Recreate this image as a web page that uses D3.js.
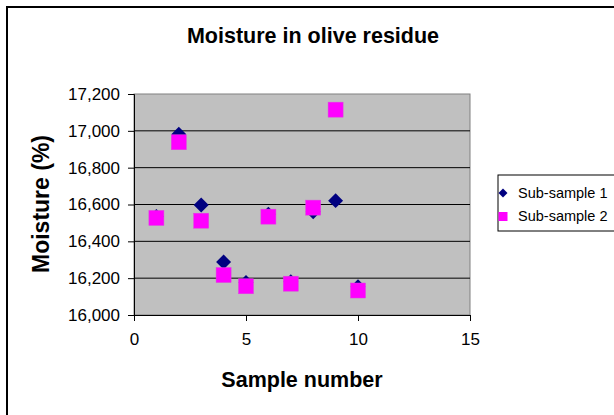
<!DOCTYPE html>
<html><head><meta charset="utf-8">
<script src="https://cdn.jsdelivr.net/npm/d3@7"></script>
<style>
body{margin:0;background:#fff;}
svg text{font-family:"Liberation Sans",Arial,sans-serif;}
</style></head>
<body>
<script>
const sampleNumbers = [1,2,3,4,5,6,7,8,9,10];
const subSample1 = [16535,16982,16597,16288,16177,16547,16180,16560,16621,16153];
const subSample2 = [16527,16938,16512,16217,16156,16534,16170,16583,17115,16133];
const xTicks = [0,5,10,15];
const yTicks = [16000,16200,16400,16600,16800,17000,17200];
const seriesNames = ["Sub-sample 1","Sub-sample 2"];

const W=614,H=415;
const svg=d3.select("body").append("svg").attr("width",W).attr("height",H);
svg.append("rect").attr("width",W).attr("height",H).attr("fill","#fff");
svg.append("rect").attr("x",7).attr("y",7).attr("width",W).attr("height",H).attr("fill","none").attr("stroke","#000").attr("stroke-width",2);

const L=134,R=470,T=94,B=315;
const x=d3.scaleLinear().domain([0,15]).range([L,R]);
const y=d3.scaleLinear().domain([16000,17200]).range([B,T]);

svg.append("rect").attr("x",L).attr("y",T).attr("width",R-L).attr("height",B-T).attr("fill","#C0C0C0").attr("stroke","#808080").attr("stroke-width",1);

svg.append("g").selectAll("line").data(yTicks.filter(d=>d>16000&&d<17200)).join("line")
  .attr("x1",L).attr("x2",R).attr("y1",d=>y(d)).attr("y2",d=>y(d)).attr("stroke","#000").attr("stroke-width",1);

const yAxis=d3.axisLeft(y).tickValues(yTicks).tickSize(6).tickPadding(8).tickFormat(d3.format(","));
const gy=svg.append("g").attr("transform",`translate(${L},0)`).call(yAxis);
const xAxis=d3.axisBottom(x).tickValues(xTicks).tickSize(6).tickPadding(12).tickFormat(d3.format("d"));
const gx=svg.append("g").attr("transform",`translate(0,${B})`).call(xAxis);
[gx,gy].forEach(g=>{
  g.select(".domain").attr("stroke","#000").attr("stroke-width",1);
  g.selectAll(".tick line").attr("stroke","#000");
  g.selectAll("text").attr("font-size",17).attr("fill","#000").attr("font-family","Liberation Sans, Arial, sans-serif");
});

const diamond=d3.symbol().type(d3.symbolSquare).size(112);
svg.append("g").selectAll("path").data(sampleNumbers).join("path")
  .attr("d",diamond).attr("transform",(d,i)=>`translate(${x(d)},${y(subSample1[i])}) rotate(45)`)
  .attr("fill","#000080");
svg.append("g").selectAll("rect").data(sampleNumbers).join("rect")
  .attr("x",(d)=>x(d)-7.5).attr("y",(d,i)=>y(subSample2[i])-7.5).attr("width",15).attr("height",15)
  .attr("fill","#FF00FF").attr("stroke","#E040E0").attr("stroke-width",0.5);

svg.append("text").attr("x",313).attr("y",43).attr("text-anchor","middle").attr("font-size",21.5).attr("font-weight","bold").text("Moisture in olive residue");
svg.append("text").attr("x",302).attr("y",387).attr("text-anchor","middle").attr("font-size",21.5).attr("font-weight","bold").text("Sample number");
svg.append("text").attr("transform","translate(49,204) rotate(-90)").attr("text-anchor","middle").attr("font-size",23).attr("font-weight","bold").text("Moisture (%)");

const lg=svg.append("g");
lg.append("rect").attr("x",498).attr("y",175).attr("width",130).attr("height",56).attr("fill","#fff").attr("stroke","#000").attr("stroke-width",1);
lg.append("path").attr("d",d3.symbol().type(d3.symbolSquare).size(40)).attr("transform","translate(503,193) rotate(45)").attr("fill","#000080");
lg.append("rect").attr("x",498.5).attr("y",212).attr("width",9).attr("height",9).attr("fill","#FF00FF");
lg.selectAll("text.l").data(seriesNames).join("text").attr("class","l")
  .attr("x",518).attr("y",(d,i)=>198+i*23).attr("font-size",14.5).text(d=>d);
</script>
</body></html>
